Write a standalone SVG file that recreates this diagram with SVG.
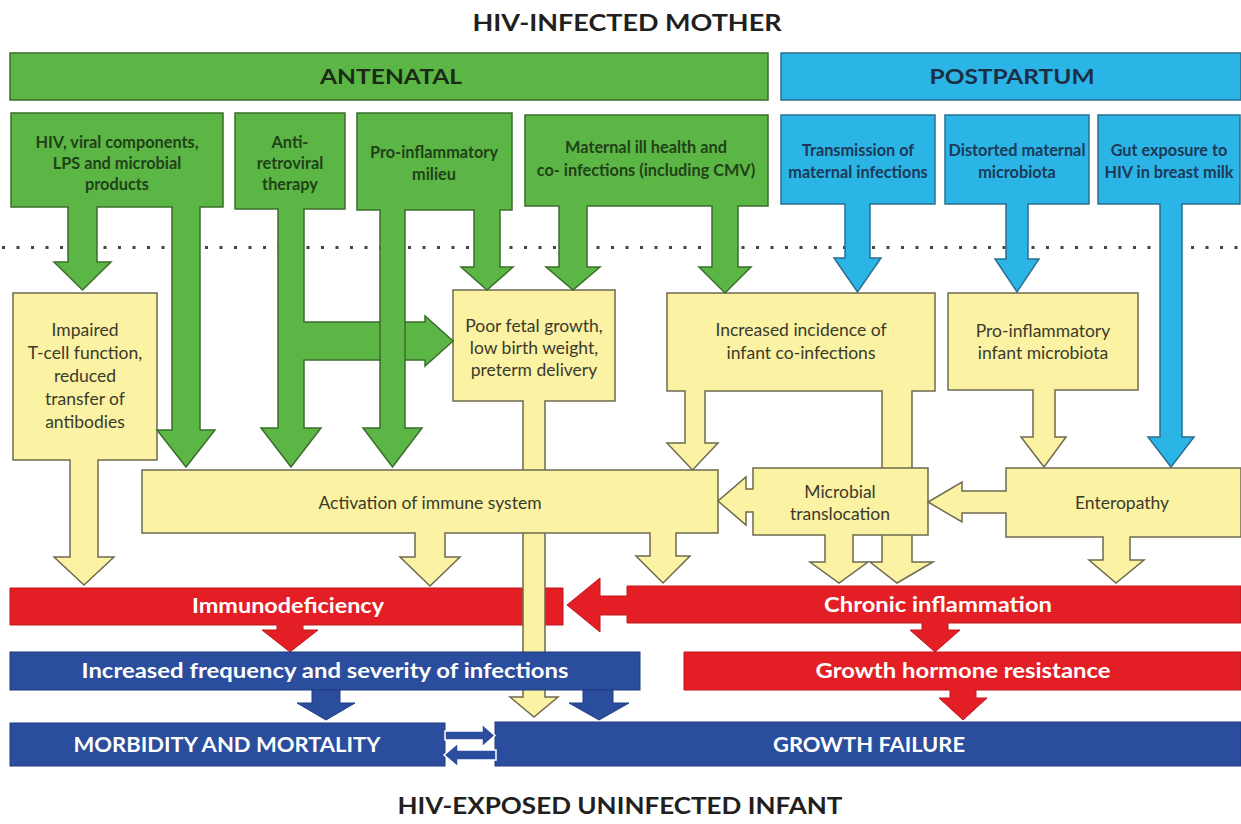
<svg xmlns="http://www.w3.org/2000/svg" width="1241" height="824" viewBox="0 0 1241 824">
<style>
text{font-family:Lato,"Open Sans","Liberation Sans",sans-serif;text-anchor:middle}
.g{fill:#5cb646;stroke:#3b6e2a;stroke-width:1.5}
.b{fill:#2bb4e6;stroke:#2a6f8e;stroke-width:1.5}
.y{fill:#fbf2a3;stroke:#6e6a4f;stroke-width:1.5}
.r{fill:#e41e25;stroke:#c0181e;stroke-width:1}
.bl{fill:#2a4d9d;stroke:#1f3c80;stroke-width:1}
.bw{fill:#2a4d9d;stroke:#ffffff;stroke-width:1.5}
.tg{font-size:16.3px;font-weight:bold;fill:#1f4216}
.tb{font-size:16.3px;font-weight:bold;fill:#1b3a57}
.ty{font-size:17.5px;fill:#3a3a2c}
.tw{font-size:20px;font-weight:bold;fill:#ffffff}
.th{font-size:22px;font-weight:bold;fill:#231f20}
.hd{font-size:20px;font-weight:bold;fill:#1d2a17}
</style>
<rect width="1241" height="824" fill="#ffffff"/>
<g id="titles">
<text class="th" x="627" y="31" textLength="309" lengthAdjust="spacingAndGlyphs">HIV-INFECTED MOTHER</text>
<text class="th" x="620" y="814" textLength="445" lengthAdjust="spacingAndGlyphs">HIV-EXPOSED UNINFECTED INFANT</text>
</g>
<g id="antenatal">
<rect class="g" x="10" y="53" width="758" height="47"/>
<text class="hd" x="391" y="84" textLength="142" lengthAdjust="spacingAndGlyphs">ANTENATAL</text>
</g>
<g id="postpartum">
<rect class="b" x="781" y="53" width="460" height="47"/>
<text class="hd" x="1012" y="84" style="fill:#1b2f44" textLength="165" lengthAdjust="spacingAndGlyphs">POSTPARTUM</text>
</g>
<line id="divider" x1="2" y1="247.5" x2="1241" y2="247.5" stroke="#444" stroke-width="3" stroke-dasharray="3 11.5"/>
<g id="immunodeficiency">
<path class="r" d="M10,588 H563 V625 H303 V630 H318 L290,652 L262,630 H277 V625 H10 Z"/>
<text class="tw" x="288" y="613" textLength="192" lengthAdjust="spacingAndGlyphs">Immunodeficiency</text>
</g>
<g id="chronic">
<path class="r" d="M1241,586 V623 H948 V630 H960 L935,652 L910,630 H922 V623 H627 V615 H600 V632 L567,605 L600,578 V596 H627 V586 Z"/>
<text class="tw" x="938" y="612" textLength="228" lengthAdjust="spacingAndGlyphs">Chronic inflammation</text>
</g>
<g id="y2">
<path class="y" d="M453,290 H615 V401 H545 V697 H558 L534,717 L510,697 H523 V401 H453 Z"/>
<text class="ty" x="534" y="332">Poor fetal growth,</text>
<text class="ty" x="534" y="354">low birth weight,</text>
<text class="ty" x="534" y="376">preterm delivery</text>
</g>
<g id="activation">
<path class="y" d="M142,470 H718 V533 H676 V556 H690 L663,583 L636,556 H650 V533 H445 V557 H460 L430,586 L400,557 H415 V533 H142 Z"/>
<text class="ty" x="430" y="509">Activation of immune system</text>
</g>
<g id="y1">
<path class="y" d="M13,293 H157 V460 H98 V557 H114 L84,585 L54,557 H70 V460 H13 Z"/>
<text class="ty" x="85" y="336">Impaired</text>
<text class="ty" x="85" y="359">T-cell function,</text>
<text class="ty" x="85" y="382">reduced</text>
<text class="ty" x="85" y="405">transfer of</text>
<text class="ty" x="85" y="428">antibodies</text>
</g>
<g id="y3">
<path class="y" d="M667,293 H935 V391 H912 V562 H933 L897,583 L870,562 H882 V391 H705 V443 H718 L692.5,470 L667,443 H685 V391 H667 Z"/>
<text class="ty" x="801" y="336">Increased incidence of</text>
<text class="ty" x="801" y="359">infant co-infections</text>
</g>
<g id="y4">
<path class="y" d="M948,293 H1138 V390 H1055 V437 H1066 L1044,467 L1021,437 H1033 V390 H948 Z"/>
<text class="ty" x="1043" y="337">Pro-inflammatory</text>
<text class="ty" x="1043" y="359">infant microbiota</text>
</g>
<g id="microbial">
<path class="y" d="M753,468 H928 V535 H853 V562 H868 L839,583 L810,562 H825 V535 H753 V512 H746 V525 L718,501 L746,477 V489 H753 Z"/>
<text class="ty" x="840" y="498">Microbial</text>
<text class="ty" x="840" y="520">translocation</text>
</g>
<g id="enteropathy">
<path class="y" d="M1006,468 H1241 V537 H1130 V560 H1144 L1116,583 L1089,560 H1103 V537 H1006 V513 H962 V522 L928,502 L962,482 V491 H1006 Z"/>
<text class="ty" x="1122" y="509">Enteropathy</text>
</g>
<g id="infections">
<rect class="bl" x="10" y="652" width="630" height="38"/>
<path class="bl" d="M312,690 H340 V703 H355 L326,720 L297,703 H312 Z"/>
<path class="bl" d="M583,690 H613 V703 H629 L599,720 L569,703 H583 Z"/>
<text class="tw" x="325" y="678" textLength="487" lengthAdjust="spacingAndGlyphs">Increased frequency and severity of infections</text>
</g>
<g id="growthhormone">
<path class="r" d="M684,652 H1241 V690 H976 V698 H987 L963,720 L939,698 H950 V690 H684 Z"/>
<text class="tw" x="963" y="678" textLength="295" lengthAdjust="spacingAndGlyphs">Growth hormone resistance</text>
</g>
<g id="morbidity">
<rect class="bl" x="10" y="723" width="435" height="43"/>
<text class="tw" x="227" y="752" textLength="307" lengthAdjust="spacingAndGlyphs">MORBIDITY AND MORTALITY</text>
</g>
<g id="growthfailure">
<rect class="bl" x="495" y="722" width="746" height="44"/>
<text class="tw" x="869" y="752" textLength="192" lengthAdjust="spacingAndGlyphs">GROWTH FAILURE</text>
</g>
<g id="connectors">
<path class="bw" d="M445,731 H482 V724 L495,735.5 L482,747 V740 H445 Z"/>
<path class="bw" d="M496,750 H458 V743 L444,755 L458,767 V760 H496 Z"/>
</g>
<g id="g1">
<path class="g" d="M11,113 H223 V207 H200 V430 H215 L186,467 L157,430 H172 V207 H97 V262 H111 L82.5,290 L54,262 H68 V207 H11 Z"/>
<text class="tg" x="117" y="148">HIV, viral components,</text>
<text class="tg" x="117" y="169">LPS and microbial</text>
<text class="tg" x="117" y="190">products</text>
</g>
<g id="g2">
<path class="g" d="M235,113 H345 V209 H304 V322 H425 V316 L453,341 L425,366 V360 H304 V428 H321 L291,467 L261,428 H278 V209 H235 Z"/>
<text class="tg" x="290" y="148">Anti-</text>
<text class="tg" x="290" y="169">retroviral</text>
<text class="tg" x="290" y="190">therapy</text>
</g>
<g id="g3">
<path class="g" d="M357,113 H512 V210 H500 V267 H513 L487,290 L461,267 H474 V210 H405 V428 H422 L392.5,467 L363,428 H380 V210 H357 Z"/>
<text class="tg" x="434" y="158">Pro-inflammatory</text>
<text class="tg" x="434" y="180">milieu</text>
</g>
<g id="g4">
<path class="g" d="M525,115 H768 V206 H738 V267 H751 L725,293 L699,267 H712 V206 H587 V267 H600 L573,290 L546,267 H559 V206 H525 Z"/>
<text class="tg" x="646" y="153">Maternal ill health and</text>
<text class="tg" x="646" y="176">co- infections (including CMV)</text>
</g>
<g id="b1">
<path class="b" d="M781,115 H935 V204 H870 V258 H881 L857.5,292 L834,258 H845 V204 H781 Z"/>
<text class="tb" x="858" y="156">Transmission of</text>
<text class="tb" x="858" y="178">maternal infections</text>
</g>
<g id="b2">
<path class="b" d="M945,115 H1089 V204 H1028 V259 H1039 L1017,292 L995,259 H1006 V204 H945 Z"/>
<text class="tb" x="1017" y="156">Distorted maternal</text>
<text class="tb" x="1017" y="178">microbiota</text>
</g>
<g id="b3">
<path class="b" d="M1098,115 H1240 V204 H1182 V437 H1194 L1171,467 L1148,437 H1160 V204 H1098 Z"/>
<text class="tb" x="1169" y="156">Gut exposure to</text>
<text class="tb" x="1169" y="178">HIV in breast milk</text>
</g>
</svg>
